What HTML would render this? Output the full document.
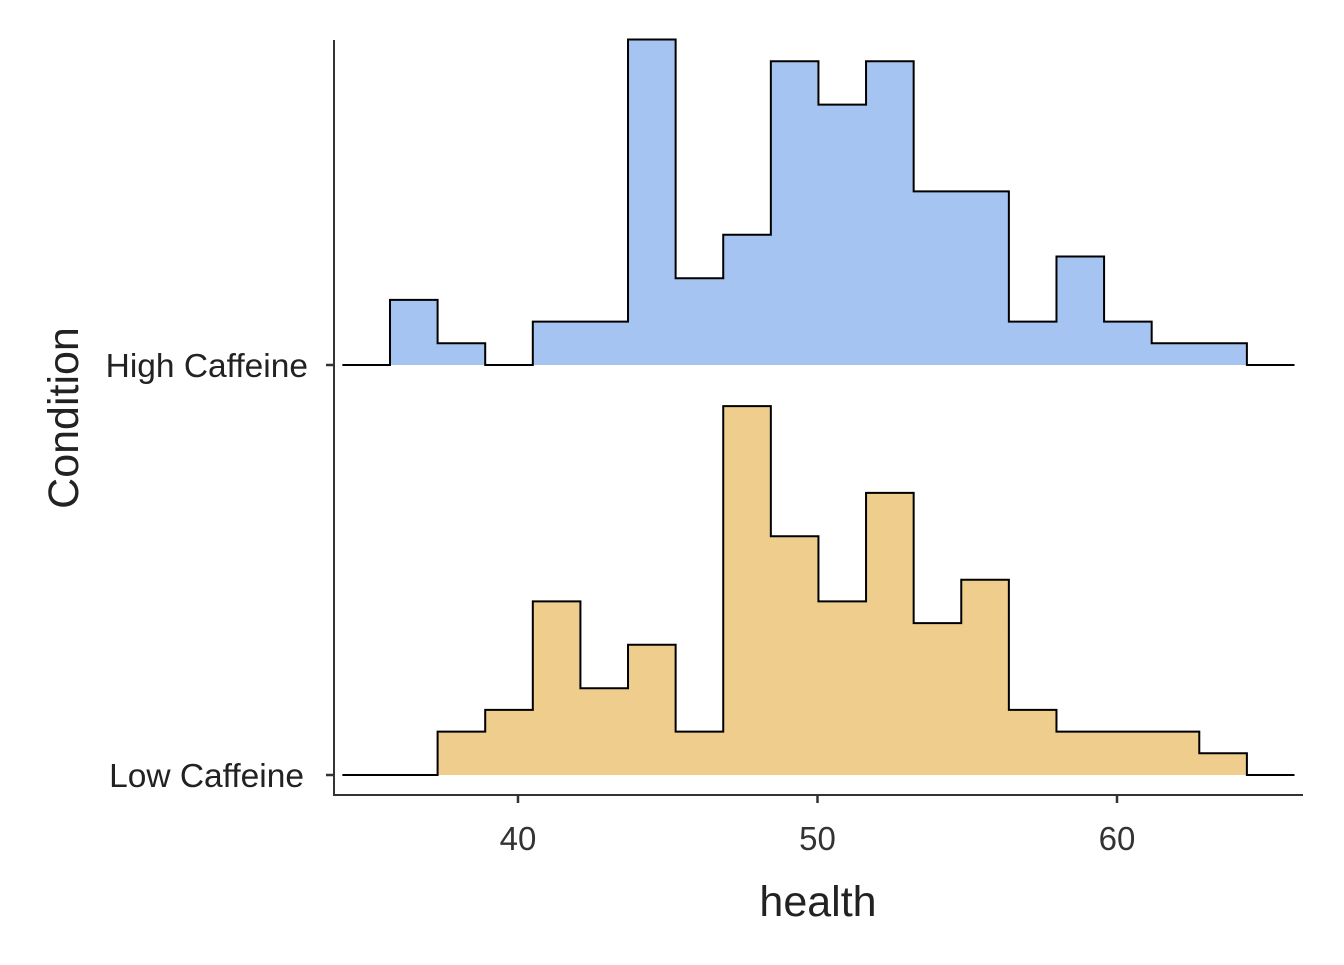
<!DOCTYPE html>
<html><head><meta charset="utf-8"><style>
html,body{margin:0;padding:0;background:#fff;}
svg text{font-family:"Liberation Sans",Arial,sans-serif;}
</style></head><body>
<svg id="chart" width="1344" height="960" viewBox="0 0 1344 960" xmlns="http://www.w3.org/2000/svg">
<g id="marks"></g>
<g id="axes"></g>
</svg>
<script>
const categories = ["High Caffeine", "Low Caffeine"];
const binStart = 35.726;
const binWidth = 1.5895;
const highCounts = [3,1,0,2,2,15,4,6,14,12,14,8,8,2,5,2,1,1];
const lowCounts  = [0,2,3,8,4,6,2,17,11,8,13,7,9,3,2,2,2,1];
const xTicks = [40,50,60];
const fills = ["#A5C4F1","#EFCD8D"];

const NS="http://www.w3.org/2000/svg";
function xS(v){return 518+(v-40)*29.95;}
const baselines={"High Caffeine":365,"Low Caffeine":775};
function yS(cat,c){return baselines[cat]-c*21.7;}
const marks=document.getElementById('marks');
const axes=document.getElementById('axes');
function mk(tag,attrs,parent){const e=document.createElementNS(NS,tag);for(const k in attrs)e.setAttribute(k,attrs[k]);parent.appendChild(e);return e;}

const series=[highCounts,lowCounts];
categories.forEach((cat,i)=>{
  const counts=series[i];const b=baselines[cat];
  const g=mk('g',{},marks);
  
  
  counts.forEach((c,j)=>{
    if(c<=0)return;
    const x0=xS(binStart+j*binWidth),x1=xS(binStart+(j+1)*binWidth);
    const r=mk('rect',{x:x0,y:yS(cat,c),width:x1-x0+0.5,height:b-yS(cat,c),fill:fills[i]},g);
    
    
  });
  let d=`M${xS(binStart-binWidth)},${b} L${xS(binStart)},${b}`;
  counts.forEach((c,j)=>{
    const x0=xS(binStart+j*binWidth),x1=xS(binStart+(j+1)*binWidth);
    d+=` L${x0},${yS(cat,c)} L${x1},${yS(cat,c)}`;
  });
  const xe=xS(binStart+counts.length*binWidth);
  d+=` L${xe},${b} L${xS(binStart+(counts.length+1)*binWidth)},${b}`;
  const p=mk('path',{d:d,fill:'none',stroke:'#000','stroke-width':2},g);
  
  
  const t=mk('line',{x1:326,x2:334,y1:b,y2:b,stroke:'#333','stroke-width':2.5},axes);
  
  
  const l=mk('text',{x:i?304:308,y:b+12,'text-anchor':'end','font-size':33.5,fill:'#222'},axes);
  l.textContent=cat;
  
  
});
let a=mk('line',{x1:334,x2:334,y1:40,y2:796,stroke:'#333','stroke-width':2},axes);


a=mk('line',{x1:333,x2:1303,y1:795,y2:795,stroke:'#333','stroke-width':2},axes);


xTicks.forEach(v=>{
  const t=mk('line',{x1:xS(v),x2:xS(v),y1:795,y2:803,stroke:'#333','stroke-width':2.5},axes);
  
  
  const l=mk('text',{x:xS(v),y:850,'text-anchor':'middle','font-size':33,fill:'#333'},axes);
  l.textContent=v;
  
  
});
a=mk('text',{x:818,y:916,'text-anchor':'middle','font-size':43,fill:'#222'},axes);
a.textContent='health';


a=mk('text',{x:78,y:418,'text-anchor':'middle','font-size':43,fill:'#222',transform:'rotate(-90 78 418)'},axes);
a.textContent='Condition';


</script>
</body></html>
